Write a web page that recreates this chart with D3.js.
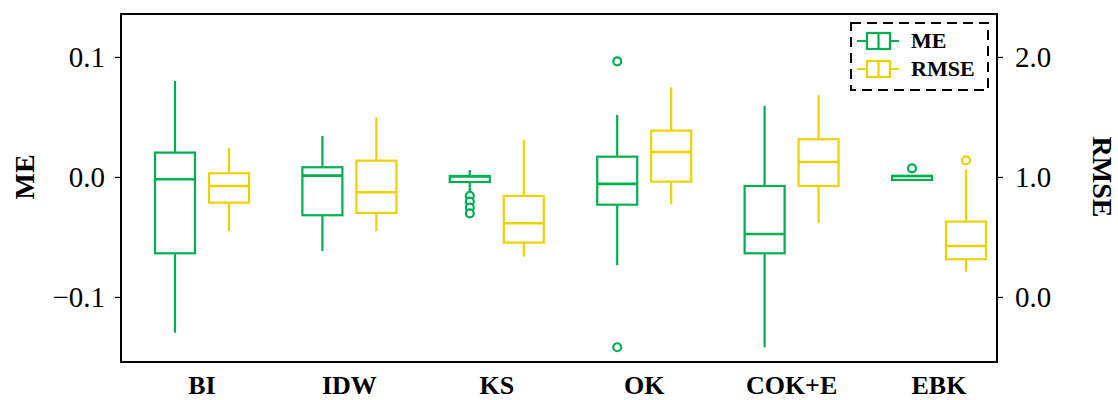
<!DOCTYPE html>
<html>
<head>
<meta charset="utf-8">
<script src="https://cdn.jsdelivr.net/npm/d3@7"></script>
<style>
  body { margin: 0; background: #fff; }
  svg { display: block; font-family: "Liberation Serif", "Times New Roman", serif; }
</style>
</head>
<body>
<svg id="chart"></svg>
<script>
// box stats: [whiskerLow, q1, median, q3, whiskerHigh]
const categories = ["BI", "IDW", "KS", "OK", "COK+E", "EBK"];
const meStats = [
  [-0.1297, -0.0636, -0.0019, 0.0203, 0.0800],
  [-0.0617, -0.0319, 0.0011, 0.0081, 0.0342],
  [-0.0122, -0.0042, 0.0005, 0.0008, 0.0058],
  [-0.0736, -0.0231, -0.0058, 0.0169, 0.0517],
  [-0.1419, -0.0636, -0.0475, -0.0075, 0.0592],
  [-0.0033, -0.0025, 0.0008, 0.0008, 0.0013]
];
const meOutliers = [[], [], [-0.0158, -0.0206, -0.0256, -0.0303], [0.0964, -0.1419], [], [0.0072]];
const rmseStats = [
  [0.547, 0.786, 0.925, 1.031, 1.239],
  [0.547, 0.700, 0.872, 1.136, 1.497],
  [0.336, 0.453, 0.614, 0.842, 1.308],
  [0.772, 0.961, 1.208, 1.386, 1.747],
  [0.614, 0.925, 1.125, 1.314, 1.681],
  [0.211, 0.314, 0.425, 0.628, 1.064]
];
const rmseOutliers = [[], [], [], [], [], [1.139]];
const meTicks = [-0.1, 0.0, 0.1];
const rmseTicks = [0.0, 1.0, 2.0];

const green = "#00b050", yellow = "#eed200";
const W = 1118, H = 400;
const plot = {left: 121, right: 997, top: 14, bottom: 362};

const svg = d3.select("#chart").attr("width", W).attr("height", H);

const x = d3.scalePoint().domain(categories).range([202, 939]);
const yMe = d3.scaleLinear().domain([-0.1542, 0.1358]).range([plot.bottom, plot.top]);
const yRmse = d3.scaleLinear().domain([-0.542, 2.358]).range([plot.bottom, plot.top]);

const series = [
  {name: "ME", stats: meStats, outliers: meOutliers, y: yMe, color: green, dx: -27},
  {name: "RMSE", stats: rmseStats, outliers: rmseOutliers, y: yRmse, color: yellow, dx: 27}
];
const boxW = 40;

series.forEach(s => {
  const g = svg.append("g").attr("fill", "none").attr("stroke", s.color).attr("stroke-width", 2.2);
  categories.forEach((c, i) => {
    const [lo, q1, med, q3, hi] = s.stats[i];
    const cx = x(c) + s.dx;
    g.append("line").attr("x1", cx).attr("x2", cx).attr("y1", s.y(hi)).attr("y2", s.y(q3));
    g.append("line").attr("x1", cx).attr("x2", cx).attr("y1", s.y(q1)).attr("y2", s.y(lo));
    g.append("rect")
      .attr("x", cx - boxW / 2).attr("width", boxW)
      .attr("y", s.y(q3)).attr("height", Math.max(1, s.y(q1) - s.y(q3)))
      .attr("fill", "#fff");
    g.append("line").attr("x1", cx - boxW / 2).attr("x2", cx + boxW / 2)
      .attr("y1", s.y(med)).attr("y2", s.y(med)).attr("stroke-width", 2.6);
    s.outliers[i].forEach(v => {
      g.append("circle").attr("cx", cx).attr("cy", s.y(v)).attr("r", 4).attr("fill", "#fff");
    });
  });
});

// frame
svg.append("rect")
  .attr("x", plot.left).attr("y", plot.top)
  .attr("width", plot.right - plot.left).attr("height", plot.bottom - plot.top)
  .attr("fill", "none").attr("stroke", "#000").attr("stroke-width", 2);

// axes
const leftAxis = svg.append("g").attr("transform", `translate(${plot.left},0)`)
  .call(d3.axisLeft(yMe).tickValues(meTicks).tickSize(6).tickPadding(10)
    .tickFormat(d => d3.format(".1f")(d).replace("-", "\u2212")));
const rightAxis = svg.append("g").attr("transform", `translate(${plot.right},0)`)
  .call(d3.axisRight(yRmse).tickValues(rmseTicks).tickSize(6).tickPadding(12).tickFormat(d3.format(".1f")));
[leftAxis, rightAxis].forEach(a => {
  a.select(".domain").remove();
  a.selectAll(".tick line").attr("stroke", "#000").attr("stroke-width", 1.2);
  a.selectAll(".tick text").attr("fill", "#000")
    .style("font-size", "29px").style("font-family", "'Liberation Serif', serif");
});

// category labels
svg.append("g").selectAll("text").data(categories).join("text")
  .attr("x", d => x(d)).attr("y", 394)
  .attr("text-anchor", "middle")
  .style("font-size", "26px").style("font-weight", "bold")
  .text(d => d);

// axis titles
svg.append("text")
  .attr("transform", `translate(34,177) rotate(-90)`)
  .attr("text-anchor", "middle")
  .style("font-size", "28px").style("font-weight", "bold")
  .text("ME");
svg.append("text")
  .attr("transform", `translate(1093,177) rotate(90)`)
  .attr("text-anchor", "middle")
  .style("font-size", "28px").style("font-weight", "bold")
  .text("RMSE");

// legend
const legend = svg.append("g");
legend.append("rect")
  .attr("x", 851).attr("y", 23).attr("width", 137).attr("height", 67)
  .attr("fill", "#fff").attr("stroke", "#000").attr("stroke-width", 2)
  .attr("stroke-dasharray", "10,6");
series.forEach((s, i) => {
  const cy = 41 + i * 28;
  const lg = legend.append("g").attr("stroke", s.color).attr("stroke-width", 2.2).attr("fill", "#fff");
  lg.append("line").attr("x1", 857).attr("x2", 899).attr("y1", cy).attr("y2", cy);
  lg.append("rect").attr("x", 867).attr("y", cy - 8).attr("width", 23).attr("height", 16);
  lg.append("line").attr("x1", 878.5).attr("x2", 878.5).attr("y1", cy - 8).attr("y2", cy + 8);
  legend.append("text")
    .attr("x", 911).attr("y", cy + 7)
    .style("font-size", "22px").style("font-weight", "bold")
    .text(s.name);
});
</script>
</body>
</html>
